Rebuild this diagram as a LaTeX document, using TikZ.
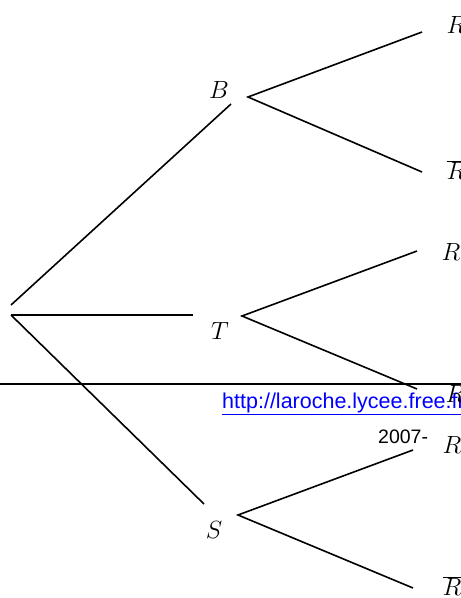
\documentclass[tikz,border=0pt]{standalone}
\usepackage{fontspec}
\newfontfamily\urlfont{Liberation Sans}
\begin{document}
\begin{tikzpicture}[x=1pt,y=-1pt,
  branch/.style={line width=1.6pt},
  lbl/.style={inner sep=0pt,font=\fontsize{27}{30}\selectfont},
  rule/.style={line width=1.8pt}]
\useasboundingbox (0,0) rectangle (461,598);
% tree
\coordinate (O1) at (11,305);
\coordinate (O) at (11,315);
\coordinate (Bin) at (231,104);
\coordinate (Tin) at (193,315);
\coordinate (Sin) at (204,504);
\coordinate (Bout) at (248,97);
\coordinate (Tout) at (242,316);
\coordinate (Sout) at (238,515);
\coordinate (B1) at (422,32);
\coordinate (B2) at (422,172);
\coordinate (T1) at (417,251);
\coordinate (T2) at (417,389);
\coordinate (S1) at (413,450);
\coordinate (S2) at (413,588);
\node[lbl] (B) at (219,90) {$B$};
\node[lbl] (T) at (220,331) {$T$};
\node[lbl] (S) at (214,530) {$S$};
\node[lbl] (RB1) at (456,25) {$R$};
\node[lbl] (RB2) at (456,170) {$\overline{R}$};
\node[lbl] (RT1) at (451,252) {$R$};
\node[lbl] (RS1) at (452,445) {$R$};
\node[lbl] (RS2) at (452,586) {$\overline{R}$};
\draw[branch] (O1) -- (Bin);
\draw[branch] (O) -- (Tin);
\draw[branch] (O) -- (Sin);
\draw[branch] (B1) -- (Bout) -- (B2);
\draw[branch] (T1) -- (Tout) -- (T2);
\draw[branch] (S1) -- (Sout) -- (S2);
% page footer rule and text
\coordinate (L0) at (0,384);
\coordinate (L1) at (461,384);
\draw[rule] (L0) -- (L1);
\node[anchor=base west,inner sep=0pt,text=blue,font=\urlfont\fontsize{21.5}{24}\selectfont] (url) at (222,408) {\underline{http://laroche.lycee.free.fr}};
\node[lbl] (RT2) at (455,393) {$\overline{R}$};
\node[anchor=base west,inner sep=0pt,font=\urlfont\fontsize{19.5}{22}\selectfont] (yr) at (378,443) {2007-};
\end{tikzpicture}
\end{document}
